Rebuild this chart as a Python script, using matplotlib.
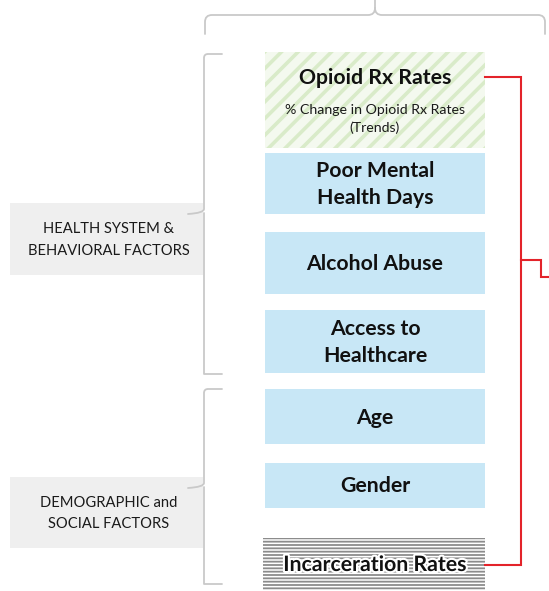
import matplotlib
matplotlib.use("Agg")
import matplotlib.pyplot as plt
from matplotlib.patches import Rectangle, PathPatch
from matplotlib.path import Path
import matplotlib.patheffects as pe

# ---- content ----
box_labels = ["Opioid Rx Rates", "Poor Mental\nHealth Days", "Alcohol Abuse",
              "Access to\nHealthcare", "Age", "Gender", "Incarceration Rates"]
box_kind = ["green", "blue", "blue", "blue", "blue", "blue", "lines"]
opioid_sub = "% Change in Opioid Rx Rates\n(Trends)"
group_labels = ["HEALTH SYSTEM &\nBEHAVIORAL FACTORS", "DEMOGRAPHIC and\nSOCIAL FACTORS"]

# ---- layout (pixels) ----
box_x0, box_x1 = 265, 485
box_tops = [52, 153, 232, 310, 389, 463, 538]
box_bots = [148, 214, 294, 373, 444, 508, 590]
group_tops = [203, 477]
group_bots = [275, 548]
group_x0, group_x1 = 10, 203

W, H = 549, 591
fig = plt.figure(figsize=(W / 100, H / 100), dpi=100)
ax = fig.add_axes([0, 0, 1, 1])
ax.set_xlim(0, W)
ax.set_ylim(H, 0)
ax.axis("off")

FONT = "Lato"
BLUE = "#c8e7f6"
BRACE = "#c9c9c9"
RED = "#e3232a"
BIG = 15.3

# group boxes
for lab, t, b in zip(group_labels, group_tops, group_bots):
    ax.add_patch(Rectangle((group_x0, t), group_x1 - group_x0, b - t,
                           facecolor="#efefef", edgecolor="none", zorder=1))
    ax.text((group_x0 + group_x1) / 2 + 2, (t + b) / 2 + 1, lab, ha="center", va="center",
            fontsize=10.6, family=FONT, color="#1a1a1a", linespacing=1.65, zorder=3)

# factor boxes
for lab, kind, t, b in zip(box_labels, box_kind, box_tops, box_bots):
    if kind == "blue":
        ax.add_patch(Rectangle((box_x0, t), box_x1 - box_x0, b - t,
                               facecolor=BLUE, edgecolor="none", zorder=1))
        ax.text((box_x0 + box_x1) / 2, (t + b) / 2 + 1, lab, ha="center", va="center",
                fontsize=BIG, family=FONT, weight="bold", color="#111111",
                linespacing=1.45, zorder=3)
    elif kind == "green":
        ax.add_patch(Rectangle((box_x0, t), box_x1 - box_x0, b - t,
                               facecolor="#f4f9ef", edgecolor="none", zorder=1))
        with plt.rc_context({"hatch.linewidth": 2.6}):
            ax.add_patch(Rectangle((box_x0, t), box_x1 - box_x0, b - t, fill=False,
                                   hatch="//", edgecolor="#d9ebc9", linewidth=0, zorder=2))
        ax.text((box_x0 + box_x1) / 2, t + 26, lab, ha="center", va="center",
                fontsize=BIG, family=FONT, weight="bold", color="#111111", zorder=3)
        ax.text((box_x0 + box_x1) / 2, t + 67, opioid_sub, ha="center", va="center",
                fontsize=10.2, family=FONT, color="#1a1a1a", linespacing=1.45, zorder=3)
    else:
        ax.add_patch(Rectangle((box_x0 - 2, t), box_x1 - box_x0 + 2, b - t,
                               facecolor="white", edgecolor="none", zorder=1))
        with plt.rc_context({"hatch.linewidth": 1.3}):
            ax.add_patch(Rectangle((box_x0 - 2, t), box_x1 - box_x0 + 2, b - t, fill=False,
                                   hatch="-----", edgecolor="#8c8c8c", linewidth=0, zorder=2))
        ax.text((box_x0 + box_x1) / 2, (t + b) / 2 + 1, lab, ha="center", va="center",
                fontsize=BIG, family=FONT, weight="bold", color="#111111", zorder=3,
                path_effects=[pe.withStroke(linewidth=3, foreground="white")])

# braces
def add_path(verts, codes, color=BRACE, lw=1.3):
    ax.add_patch(PathPatch(Path(verts, codes), facecolor="none", edgecolor=color,
                           linewidth=lw, zorder=2, capstyle="round", joinstyle="round"))

M, L, C = Path.MOVETO, Path.LINETO, Path.CURVE3
# top brace
add_path([(205, 34), (205, 22), (205, 15), (212, 15), (368, 15), (375, 15), (375, 8),
          (375, 0), (375, 8), (375, 15), (382, 15), (538, 15), (545, 15), (545, 22), (545, 34)],
         [M, L, C, C, L, C, C, L, M, C, C, L, C, C, L])


def left_brace(top, bot, mid):
    add_path([(222, top), (208, top), (204, top), (204, top + 4), (204, mid - 4),
              (204, mid), (188, mid + 1)],
             [M, L, C, C, L, C, C])
    add_path([(204, mid), (204, mid + 4), (204, bot - 4), (204, bot), (208, bot), (222, bot)],
             [M, C, C, L, C, C])


left_brace(54, 374, 213)
left_brace(389, 584, 487)

# red connector
ax.plot([485, 521, 521, 485], [77, 77, 565, 565], color=RED, lw=1.5, zorder=4,
        solid_joinstyle="miter")
ax.plot([521, 541, 541, 549], [260, 260, 277, 277], color=RED, lw=1.5, zorder=4,
        solid_joinstyle="miter")

fig.savefig("out.png", dpi=100, facecolor="white")
